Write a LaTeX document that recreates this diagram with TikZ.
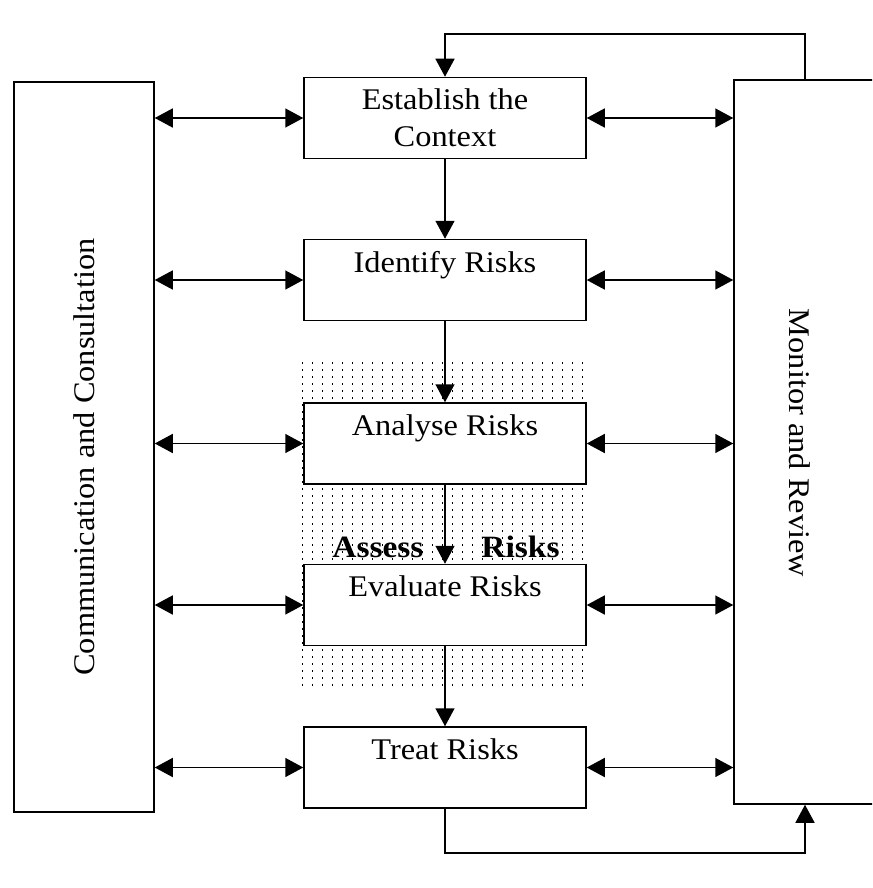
\documentclass[tikz,border=0pt]{standalone}
\usepackage{fontspec}
\setmainfont{Liberation Serif}[FakeStretch=1.08]
\usetikzlibrary{arrows.meta}

\begin{document}
\begin{tikzpicture}[x=1pt, y=-1pt,
		stagebox/.style={draw, line width=1.5pt, fill=white, minimum width=282pt, minimum height=81pt, inner sep=0pt, align=center, font=\fontsize{30}{37}\selectfont},
		sidebox/.style={draw, line width=1.5pt, fill=white, inner sep=0pt},
		link/.style={line width=1.5pt, {Triangle[length=18pt, width=19pt]}-{Triangle[length=18pt, width=19pt]}},
		flow/.style={line width=1.5pt, -{Triangle[length=18pt, width=19pt]}}]
		\fill[white] (0, 0) rectangle (872, 888);
		\clip (0, 0) rectangle (872, 888);
		\foreach \i in {0, ..., 28}
			\foreach \j in {0, ..., 46}
				\fill (302 + 10*\i, 362 + 7*\j) rectangle ++(1.2, 2.2);
		\node[sidebox, minimum width=140pt, minimum height=730pt] (comm) at (84, 447) {};
		\node[rotate=90, font=\fontsize{30}{37}\selectfont] (commtext) at (84, 457) {Communication and Consultation};
		\node[sidebox, minimum width=142pt, minimum height=724pt] (monitor) at (805, 442) {};
		\node[rotate=-90, font=\fontsize{30}{37}\selectfont] (monitortext) at (800, 443) {Monitor and Review};
		\node[stagebox] (context) at (445, 118) {Establish the\\Context};
		\node[stagebox] (identify) at (445, 280) {Identify Risks\\\mbox{}};
		\node[stagebox] (analyse) at (445, 443.5) {Analyse Risks\\\mbox{}};
		\node[stagebox] (evaluate) at (445, 605) {Evaluate Risks\\\mbox{}};
		\node[stagebox] (treat) at (445, 767.5) {Treat Risks\\\mbox{}};
		\node[font=\fontsize{31}{34}\selectfont\bfseries] (assess) at (446, 547) {Assess\hspace{58pt}Risks};
		\draw[flow] (context) -- (identify);
		\draw[flow] (identify) -- (analyse);
		\draw[flow] (analyse) -- (evaluate);
		\draw[flow] (evaluate) -- (treat);
		\foreach \s in {context, identify, analyse, evaluate, treat} {
			\draw[link] (comm.east |- \s.west) -- (\s.west);
			\draw[link] (\s.east) -- (monitor.west |- \s.east);
		}
		\draw[flow] (monitor.north) -- ++(0, -45) -| (context.north);
		\draw[flow] (treat.south) -- ++(0, 44) -| (monitor.south);
	\end{tikzpicture}
\end{document}
